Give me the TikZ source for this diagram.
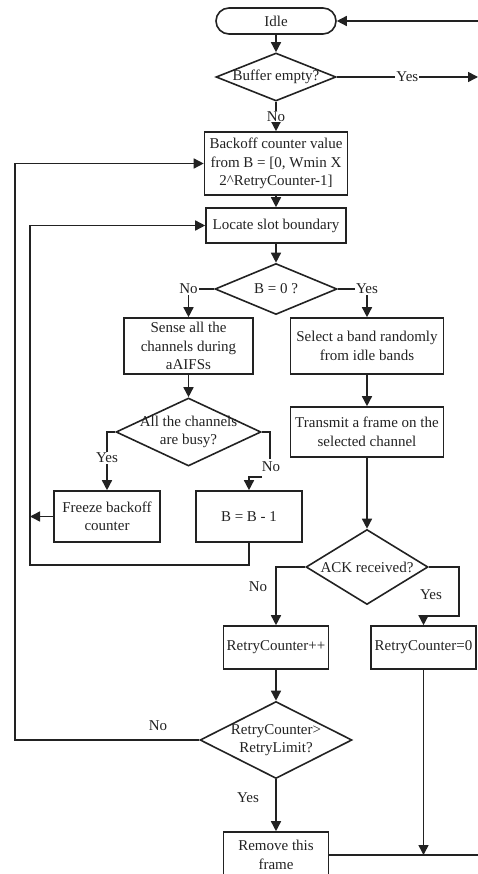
\documentclass[tikz,border=0pt]{standalone}
\usepackage{fontspec}
\setmainfont{Liberation Serif}
\usetikzlibrary{shapes.geometric,arrows.meta}
\definecolor{ink}{HTML}{222222}
\begin{document}
\begin{tikzpicture}[x=1pt,y=-1pt,
  every node/.style={font=\fontsize{15}{18.5}\selectfont, text=ink},
  ln/.style={line width=1.5pt, draw=ink},
  arr/.style={ln, -{Triangle[length=10pt,width=10pt]}},
  box/.style={draw=ink, line width=1.6pt, align=center, inner sep=1pt},
  dia/.style={diamond, draw=ink, line width=1.6pt, inner sep=0pt},
  term/.style={draw=ink, line width=1.6pt, rounded corners=13pt, inner sep=0pt},
  lbl/.style={fill=white, inner sep=1pt}]
\clip (0,0) rectangle (478,874);
% nodes
\node[term, minimum width=120, minimum height=26] (idle) at (276,21) {Idle};
\node[dia, minimum width=120, minimum height=48, label={[name=buft]center:Buffer empty?}] (buf) at (276,77) {};
\node[box, minimum width=143, minimum height=63] (backoff) at (276,163.5) {Backoff counter value\\from B = [0, Wmin X\\2\textasciicircum RetryCounter-1]};
\node[box, minimum width=140, minimum height=35] (locate) at (276,225.5) {Locate slot boundary};
\node[dia, minimum width=122, minimum height=51, label={[name=bzerot]center:B = 0 ?}] (bzero) at (276,289) {};
\node[box, minimum width=129, minimum height=56] (sense) at (188.5,346) {Sense all the\\channels during\\aAIFSs};
\node[box, minimum width=153, minimum height=56] (select) at (367,346) {Select a band randomly\\from idle bands};
\node[dia, minimum width=145, minimum height=68, label={[name=busyt,align=center]center:All the channels\\are busy?}] (busy) at (188.5,432) {};
\node[box, minimum width=153, minimum height=50] (transmit) at (367,432) {Transmit a frame on the\\selected channel};
\node[box, minimum width=106, minimum height=51] (freeze) at (107,516.5) {Freeze backoff\\counter};
\node[box, minimum width=106, minimum height=51] (bminus) at (249,516.5) {B = B - 1};
\node[dia, minimum width=122, minimum height=75, label={[name=ackt]center:ACK received?}] (ack) at (367,567) {};
\node[box, minimum width=105, minimum height=43] (rcpp) at (276,647.5) {RetryCounter++};
\node[box, minimum width=105, minimum height=43] (rc0) at (423.5,647.5) {RetryCounter=0};
\node[dia, minimum width=152, minimum height=77, label={[name=limitt,align=center]center:RetryCounter>\\RetryLimit?}] (limit) at (276,740) {};
\node[box, minimum width=105, minimum height=46] (remove) at (276,855) {Remove this\\frame};
% free ends
\coordinate (eIdle) at (478,21);
\coordinate (eYes) at (478,77);
\coordinate (eR) at (478,855);
\coordinate (lx) at (30,517);
\coordinate (cL1) at (30,565);
\coordinate (cL2) at (15,740);
\coordinate (nb) at (262,477);
\coordinate (ackr) at (459,616);
\coordinate (jn) at (423.5,855);
% connectors
\draw[arr] (eIdle) -- (idle.east);
\draw[arr] (idle.south) -- (buf.north);
\draw[arr] (buf.east) -- node[lbl, pos=0.5]{Yes} (eYes);
\draw[arr] (buf.south) -- node[lbl]{No} (backoff.north);
\draw[arr] (backoff.south) -- (locate.north);
\draw[arr] (locate.south) -- (bzero.north);
\draw[arr] (bzero.west) -| node[lbl, pos=0.5]{No} (sense.north);
\draw[arr] (bzero.east) -| node[lbl, pos=0.5]{Yes} (select.north);
\draw[arr] (sense.south) -- (busy.north);
\draw[arr] (select.south) -- (transmit.north);
\draw[arr] (busy.west) -| (freeze.north);
\node[lbl] (yesb) at (107,458) {Yes};
\draw[ln] (busy.east) -| (270,459);
\node (nob) at (271,467) {No};
\draw[arr] (nb) -| (bminus.north);
\draw[arr] (freeze.west) -- (freeze.west -| lx);
\draw[arr] (bminus.south) |- (cL1) |- (locate.west);
\draw[arr] (transmit.south) -- (ack.north);
\draw[arr] (ack.west) -| (rcpp.north);
\node (noa) at (258,587) {No};
\draw[arr] (ack.east) -| (ackr) -| (rc0.north);
\node (yesa) at (431,595) {Yes};
\draw[arr] (rcpp.south) -- (limit.north);
\draw[arr] (limit.west) -- (cL2) |- (backoff.west);
\node (nol) at (158,726) {No};
\draw[arr] (limit.south) -- (remove.north);
\node (yesl) at (248,798) {Yes};
\draw[arr] (rc0.south) -- (jn);
\draw[ln] (remove.east) -- (remove.east -| eR);
\end{tikzpicture}
\end{document}
